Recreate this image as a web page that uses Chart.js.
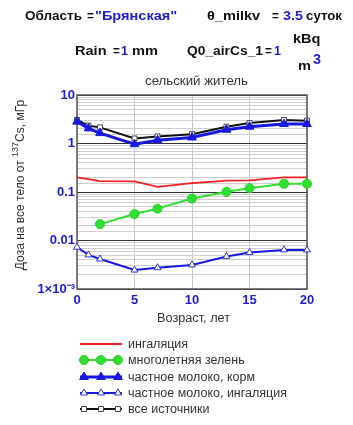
<!DOCTYPE html>
<html>
<head>
<meta charset="utf-8">
<script src="https://cdn.jsdelivr.net/npm/chart.js@4"></script>
<style>
  body{margin:0;background:#fff;}
  canvas{display:block;}
</style>
</head>
<body>
<canvas id="doseChart" width="353" height="425"></canvas>
<script>
const ages = [0,1,2,5,7,10,13,15,18,20];
const inhalation = [0.2,0.185,0.168,0.166,0.128,0.153,0.172,0.174,0.2,0.2];
const greens = [null,null,0.0218,0.0352,0.0454,0.0733,0.1007,0.12,0.148,0.148];
const milkFeed = [2.82,2.05,1.64,0.97,1.17,1.33,1.92,2.22,2.52,2.52];
const milkInhal = [0.00727,0.00504,0.00416,0.00246,0.00275,0.00313,0.00466,0.00564,0.0064,0.0064];
const allSources = [3.05,2.33,2.15,1.27,1.40,1.56,2.22,2.64,3.05,2.96];
const seriesNames = ["ингаляция","многолетняя зелень","частное молоко, корм","частное молоко, ингаляция","все источники"];
const xTicks = [0,5,10,15,20];
const yTickLabels = {"10":"10","1":"1","0.1":"0.1","0.01":"0.01","0.001":"1×10⁻³"};

const BLUE = "#1c1cd8";
const FONT = "'Liberation Sans', Arial, sans-serif";

const pts = arr => ages.map((a,i)=>({x:a,y:arr[i]})).filter(p=>p.y!==null);

const ctx = document.getElementById("doseChart");

// draw text starting at x0, gently scaled toward the width x0..x1
function fit(c, t, x0, x1, y, font, color){
  c.save();
  c.font = font;
  c.fillStyle = color;
  c.textAlign = "left";
  c.textBaseline = "alphabetic";
  const w = c.measureText(t).width;
  const k = Math.min(1.12, Math.max(0.9, (x1-x0)/w));
  c.translate(x0, y);
  c.scale(k, 1);
  c.fillText(t, 0, 0);
  c.restore();
}

const decorations = {
  id:"decorations",
  beforeDatasetsDraw(chart){
    const c = chart.ctx, a = chart.chartArea;
    c.save();
    c.strokeStyle = "#555";
    c.lineWidth = 1.5;
    c.strokeRect(a.left, a.top, a.right-a.left, a.bottom-a.top);
    c.restore();
  },
  afterDraw(chart){
    const c = chart.ctx;
    const b = "bold 13px " + FONT;
    const K = "#111";

    // title line 1
    fit(c,"Область",25,82,20,b,K);
    fit(c,"=",87,93,20,b,K);
    fit(c,"\"Брянская\"",95,186,20,b,BLUE);
    fit(c,"θ_milkv",207,277,20,b,K);
    fit(c,"=",272,278,20,b,K);
    fit(c,"3.5",283,303,20,b,BLUE);
    fit(c,"суток",306,342,20,b,K);

    // title line 2
    fit(c,"Rain",75,110,55,b,K);
    fit(c,"=",113,119,55,b,K);
    fit(c,"1",121,128,55,b,BLUE);
    fit(c,"mm",132,158,55,b,K);
    fit(c,"Q0_airCs_1",187,263,55,b,K);
    fit(c,"=",265,271,55,b,K);
    fit(c,"1",274,281,55,b,BLUE);
    fit(c,"kBq",293,323,43,b,K);
    fit(c,"m",298,312,70,b,K);
    fit(c,"3",313,321,64,"bold 14px " + FONT,BLUE);

    // subtitle and x title
    fit(c,"сельский житель",145,248,85,"12px " + FONT,"#333");
    fit(c,"Возраст, лет",157,230,322,"12px " + FONT,"#333");

    // y title rotated
    c.save();
    c.translate(24,185);
    c.rotate(-Math.PI/2);
    c.fillStyle = "#333";
    c.textAlign = "left";
    const p1 = "Доза на все тело от ", sup = "137", p2 = "Cs, мГр";
    const f1 = "12px " + FONT, f2 = "9px " + FONT;
    c.font = f1;
    const w1 = c.measureText(p1).width, w3 = c.measureText(p2).width;
    c.font = f2;
    const w2 = c.measureText(sup).width;
    let x = -(w1+w2+w3)/2;
    c.font = f1; c.fillText(p1,x,0); x += w1;
    c.font = f2; c.fillText(sup,x,-6); x += w2;
    c.font = f1; c.fillText(p2,x,0);
    c.restore();

    // legend
    c.save();
    const rows = [344,360,377,393,409];
    chart.data.datasets.forEach((ds,i)=>{
      const y = rows[i];
      c.strokeStyle = ds.borderColor;
      c.lineWidth = ds.borderWidth;
      c.beginPath(); c.moveTo(80,y); c.lineTo(122,y); c.stroke();
      if(ds.pointRadius>0){
        [84,101,118].forEach(px=>{
          c.fillStyle = ds.pointBackgroundColor;
          c.strokeStyle = ds.pointBorderColor;
          c.lineWidth = ds.pointBorderWidth;
          Chart.helpers.drawPoint(c,{pointStyle:ds.pointStyle,radius:ds.pointRadius,rotation:0,borderWidth:ds.pointBorderWidth},px,y);
        });
      }
      c.font = "12.5px " + FONT;
      c.fillStyle = "#333";
      c.textAlign = "left";
      c.textBaseline = "middle";
      c.fillText(ds.label,128,y+1);
    });
    c.restore();
  }
};

new Chart(ctx,{
  type:"line",
  data:{
    datasets:[
      {label:seriesNames[0],data:pts(inhalation),borderColor:"#f02020",borderWidth:1.8,pointRadius:0,pointStyle:"circle"},
      {label:seriesNames[1],data:pts(greens),borderColor:"#30e030",borderWidth:2,pointRadius:4.5,pointStyle:"circle",
        pointBackgroundColor:"#30e030",pointBorderColor:"#20d020",pointBorderWidth:1},
      {label:seriesNames[2],data:pts(milkFeed),borderColor:"#1818e0",borderWidth:3,pointRadius:5,pointStyle:"triangle",
        pointBackgroundColor:"#1818e0",pointBorderColor:"#1818e0",pointBorderWidth:1},
      {label:seriesNames[3],data:pts(milkInhal),borderColor:"#1818e0",borderWidth:2,pointRadius:4,pointStyle:"triangle",
        pointBackgroundColor:"#ffffff",pointBorderColor:"#3030e8",pointBorderWidth:1},
      {label:seriesNames[4],data:pts(allSources),borderColor:"#111111",borderWidth:2,pointRadius:3.5,pointStyle:"rect",
        pointBackgroundColor:"#ffffff",pointBorderColor:"#444",pointBorderWidth:1,order:1}
    ]
  },
  options:{
    responsive:false,
    devicePixelRatio:1,
    animation:false,
    layout:{padding:{left:0,top:95,right:46,bottom:116}},
    plugins:{legend:{display:false},tooltip:{enabled:false}},
    elements:{line:{tension:0}},
    datasets:{line:{clip:false}},
    scales:{
      x:{
        type:"linear",min:0,max:20,
        afterFit:s=>{s.height = 20;},
        afterBuildTicks:s=>{s.ticks = xTicks.map(v=>({value:v}));},
        grid:{color:"#c8c8c8",lineWidth:1,drawTicks:false},
        border:{display:false},
        ticks:{color:BLUE,font:{family:FONT,size:13,weight:"bold"},padding:4}
      },
      y:{
        type:"logarithmic",min:0.001,max:10,
        afterFit:s=>{s.width = 77;},
        grid:{
          drawTicks:false,
          color:c=>{
            const v = c.tick ? c.tick.value : 0;
            return yTickLabels[String(+v.toPrecision(3))] ? "#333" : "#cfcfcf";
          },
          lineWidth:1
        },
        border:{display:false},
        ticks:{
          autoSkip:false,
          color:BLUE,
          font:{family:FONT,size:13,weight:"bold"},
          padding:2,
          callback:v=>yTickLabels[String(+(+v).toPrecision(3))] || ""
        }
      }
    }
  },
  plugins:[decorations]
});
</script>
</body>
</html>
